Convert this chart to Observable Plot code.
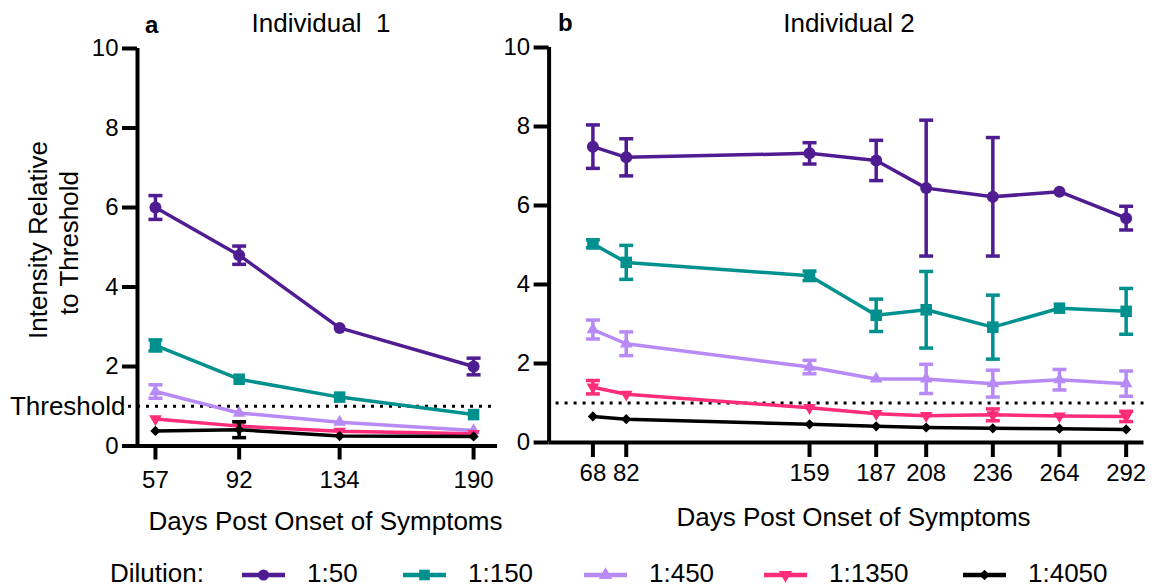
<!DOCTYPE html>
<html><head><meta charset="utf-8">
<script src="https://cdn.jsdelivr.net/npm/d3@7"></script>
<script src="https://cdn.jsdelivr.net/npm/@observablehq/plot@0.6"></script>
<style>
html,body{margin:0;padding:0;background:#fff;}
#root{position:relative;width:1157px;height:587px;overflow:hidden;font-family:'Liberation Sans',Arial,sans-serif;}
#root > svg, #root > figure > svg{position:absolute;}
</style></head><body><div id="root"></div>
<script>
// ---------- data ----------
const dilutions = ["1:50", "1:150", "1:450", "1:1350", "1:4050"];
const yTicks = [0, 2, 4, 6, 8, 10];
const threshold = 1;

// Individual 1
const daysA = [57, 92, 134, 190];
const a_50     = [6.00, 4.80, 2.97, 2.00];
const a_50_err = [0.30, 0.23, 0.00, 0.21];
const a_150     = [2.53, 1.68, 1.23, 0.79];
const a_150_err = [0.14, 0.00, 0.00, 0.00];
const a_450     = [1.37, 0.83, 0.60, 0.39];
const a_450_err = [0.17, 0.00, 0.00, 0.00];
const a_1350     = [0.68, 0.50, 0.37, 0.31];
const a_1350_err = [0.00, 0.00, 0.00, 0.00];
const a_4050     = [0.38, 0.41, 0.25, 0.24];
const a_4050_err = [0.00, 0.20, 0.00, 0.00];

// Individual 2
const daysB = [68, 82, 159, 187, 208, 236, 264, 292];
const b_50     = [7.49, 7.22, 7.32, 7.14, 6.44, 6.22, 6.35, 5.68];
const b_50_err = [0.55, 0.47, 0.27, 0.51, 1.72, 1.50, 0.00, 0.30];
const b_150     = [5.03, 4.56, 4.22, 3.22, 3.36, 2.92, 3.40, 3.32];
const b_150_err = [0.10, 0.43, 0.12, 0.41, 0.97, 0.81, 0.00, 0.58];
const b_450     = [2.86, 2.50, 1.91, 1.61, 1.61, 1.49, 1.59, 1.49];
const b_450_err = [0.24, 0.30, 0.17, 0.00, 0.37, 0.34, 0.26, 0.32];
const b_1350     = [1.40, 1.22, 0.88, 0.73, 0.68, 0.70, 0.67, 0.66];
const b_1350_err = [0.17, 0.00, 0.00, 0.00, 0.00, 0.15, 0.00, 0.13];
const b_4050     = [0.66, 0.59, 0.46, 0.41, 0.38, 0.36, 0.35, 0.33];
const b_4050_err = [0, 0, 0, 0, 0, 0, 0, 0];

// ---------- styles ----------
const colors = ["#501c92", "#00918e", "#b78af6", "#ff2c79", "#000000"];
const triDown = {draw(ctx, size) {
  const y = -Math.sqrt(size / (Math.sqrt(3) * 3)), s3 = Math.sqrt(3);
  ctx.moveTo(0, -2 * y); ctx.lineTo(-s3 * y, y); ctx.lineTo(s3 * y, y); ctx.closePath();
}};
const capSym = {draw(ctx, size) {
  const w = Math.sqrt(size / Math.PI);
  ctx.moveTo(-w, 0); ctx.lineTo(w, 0);
}};
const symbols = ["circle", "square", "triangle", triDown, "diamond2"];
const symR = [6, 6.5, 4.7, 4.7, 4.6];
const FONT = "'Liberation Sans', Arial, Helvetica, sans-serif";

function panel(days, means, errs, o) {
  const marks = [];
  marks.push(Plot.ruleY([threshold], {stroke: "black", strokeWidth: 3, strokeDasharray: "3,6", insetLeft: o.dotInset}));
  means.forEach((m, i) => {
    const rows = days.map((d, j) => ({x: d, y: m[j], e: errs[i][j]}));
    const er = rows.filter(r => r.e > 0);
    marks.push(Plot.line(rows, {x: "x", y: "y", stroke: colors[i], strokeWidth: 3.5}));
    marks.push(Plot.ruleX(er, {x: "x", y1: r => r.y - r.e, y2: r => r.y + r.e, stroke: colors[i], strokeWidth: 3.5}));
    marks.push(Plot.dot(er, {x: "x", y: r => r.y + r.e, symbol: capSym, r: 7, fill: "none", stroke: colors[i], strokeWidth: 3.5}));
    marks.push(Plot.dot(er, {x: "x", y: r => r.y - r.e, symbol: capSym, r: 7, fill: "none", stroke: colors[i], strokeWidth: 3.5}));
    marks.push(Plot.dot(rows, {x: "x", y: "y", symbol: symbols[i], r: symR[i], fill: colors[i], stroke: "none"}));
  });
  marks.push(Plot.ruleX([o.xDomain[0]], {y1: 0, y2: 10, stroke: "black", strokeWidth: 4}));
  marks.push(Plot.ruleY([0], {stroke: "black", strokeWidth: 4}));
  marks.push(Plot.axisY({ticks: yTicks, tickSize: 15, tickPadding: 4, strokeWidth: 4, label: null, tickFormat: d => String(d)}));
  marks.push(Plot.axisX({ticks: days, tickSize: o.xTickSize, tickPadding: o.xTickPad, strokeWidth: 4, label: null, tickFormat: d => String(d)}));
  if (o.thresholdLabel) {
    marks.push(Plot.text(["Threshold"], {frameAnchor: "left", y: threshold, dx: -12, textAnchor: "end", fontSize: 26}));
  }
  marks.push(Plot.text(["Days Post Onset of Symptoms"], {frameAnchor: "bottom", dy: o.xLabelDy, dx: o.xLabelDx, fontSize: 26}));
  const svg = Plot.plot({
    width: o.width, height: 545,
    marginTop: o.mt, marginBottom: 545 - o.y0px, marginLeft: o.ml, marginRight: o.mr,
    x: {domain: o.xDomain},
    y: {domain: [0, 10]},
    style: {fontFamily: FONT, fontSize: "24px", color: "black", background: "transparent", overflow: "visible"},
    marks
  });
  svg.style.position = "absolute";
  svg.style.left = o.left + "px";
  svg.style.top = "0px";
  return svg;
}

const root = document.getElementById("root");
root.appendChild(panel(daysA,
  [a_50, a_150, a_450, a_1350, a_4050],
  [a_50_err, a_150_err, a_450_err, a_1350_err, a_4050_err],
  {left: 0, width: 520, ml: 137, mr: 23, mt: 48, y0px: 445.5, xDomain: [49.5, 200],
   xTickSize: 14, xTickPad: 11, dotInset: -9, thresholdLabel: true, xLabelDy: 84, xLabelDx: 8}));
root.appendChild(panel(daysB,
  [b_50, b_150, b_450, b_1350, b_4050],
  [b_50_err, b_150_err, b_450_err, b_1350_err, b_4050_err],
  {left: 470, width: 687, ml: 78.6, mr: 13.5, mt: 47, y0px: 442, xDomain: [49.6, 299.5],
   xTickSize: 15, xTickPad: 6, dotInset: 7, thresholdLabel: false, xLabelDy: 83, xLabelDx: 7}));

// ---------- overlay texts & legend ----------
const ov = d3.select(root).append("svg")
  .attr("width", 1157).attr("height", 587)
  .style("position", "absolute").style("left", "0px").style("top", "0px")
  .style("font-family", FONT).style("pointer-events", "none");

ov.append("text").attr("x", 145).attr("y", 33).attr("font-size", 24).attr("font-weight", "bold").text("a");
ov.append("text").attr("x", 558).attr("y", 31).attr("font-size", 24).attr("font-weight", "bold").text("b");
ov.append("text").attr("x", 321).attr("y", 31.5).attr("font-size", 26).attr("text-anchor", "middle")
  .attr("xml:space", "preserve").style("white-space", "pre").text("Individual  1");
ov.append("text").attr("x", 849).attr("y", 31.5).attr("font-size", 26).attr("text-anchor", "middle").text("Individual 2");

const yl = ov.append("g").attr("font-size", 26).attr("text-anchor", "middle");
yl.append("text").attr("transform", "translate(47,240) rotate(-90)").text("Intensity Relative");
yl.append("text").attr("transform", "translate(78,243) rotate(-90)").text("to Threshold");

// legend
ov.append("text").attr("x", 110).attr("y", 582).attr("font-size", 26).text("Dilution:");
const legX = [242, 403, 584, 764, 963];
const legR = [5.5, 6, 5, 5, 4.8];
dilutions.forEach((d, i) => {
  const g = ov.append("g").attr("transform", `translate(${legX[i]},575)`);
  g.append("line").attr("x1", 0).attr("x2", 43).attr("stroke", colors[i]).attr("stroke-width", 4.5);
  const t = symbols[i];
  const type = typeof t === "string" ? {circle: d3.symbolCircle, square: d3.symbolSquare, triangle: d3.symbolTriangle, diamond2: d3.symbolDiamond2}[t] : t;
  g.append("path").attr("transform", "translate(21.5,0)")
    .attr("d", d3.symbol().type(type).size(Math.PI * legR[i] * legR[i])()).attr("fill", colors[i]);
  g.append("text").attr("x", 65).attr("y", 7).attr("font-size", 26).text(d);
});
</script></body></html>
